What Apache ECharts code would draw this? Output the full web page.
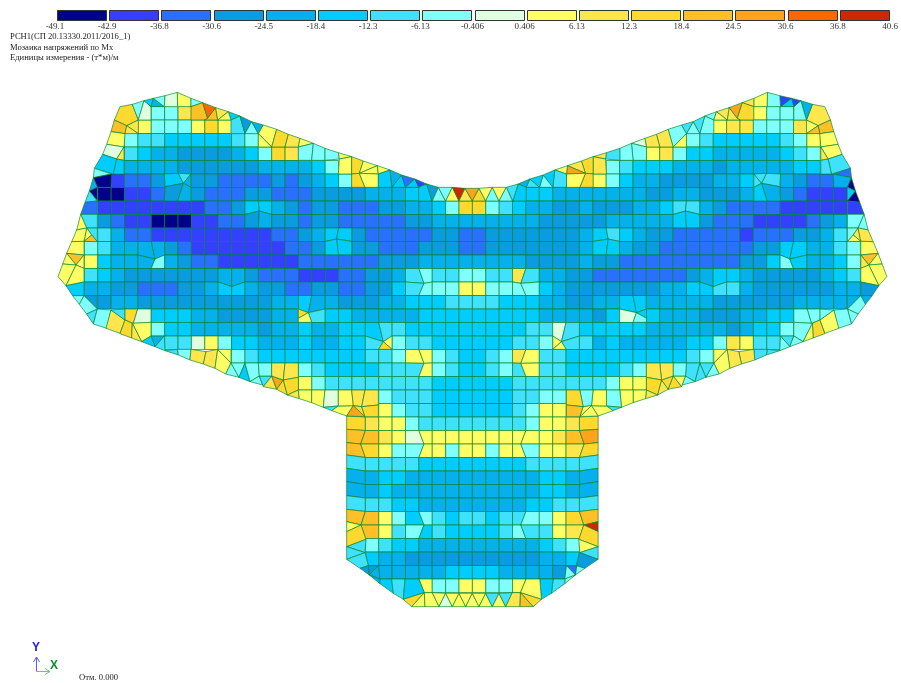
<!DOCTYPE html>
<html>
<head>
    <meta charset="UTF-8">
    <title>Мозаика напряжений по Mx</title>
    <style>
        html,body{margin:0;padding:0;background:#fff}
        #main{width:901px;height:683px}
    </style>
</head>
<body>
<div id="main"></div>
<script src="https://cdn.jsdelivr.net/npm/echarts@6/dist/echarts.min.js"></script>
<script type="text/javascript">
    // scale of the mosaic, one letter per band
    var bandCodes = 'abcdefghijklmnop';
    var bandColors = ['#00008b','#3340ff','#2a70ff','#0a9be0','#05b0ec','#00ccff','#40e0ff','#80ffff',
        '#e0ffe0','#ffff66','#ffe64d','#ffd92e','#ffbf26','#ffa31a','#ff6600','#cc2900'];
    var tickLabels = ['-49.1','-42.9','-36.8','-30.6','-24.5','-18.4','-12.3','-6.13','-0.406',
        '0.406','6.13','12.3','18.4','24.5','30.6','36.8','40.6'];

    var titleLines = ['РСН1(СП 20.13330.2011/2016_1)','Мозаика напряжений по Mx','Единицы измерения - (т*м)/м'];
    var levelLabel = 'Отм. 0.000';

    // plate mesh, regular cells: rows from firstRow, columns -30..-1 | 0..29
    var firstRow = -7;
    var cellRows = [
        '......hhk.....................|.....................jhh......',
        '.....jhhhjlj..................|..................jkkhhhk.....',
        '....hggfffffgh................|................hgfffffghj....',
        '....gfeeddddefhlk.............|.............jkhffeeeeefgh....',
        '....eeeeddddddeeeefh..........|..........hgfffeeedeeeeeff....',
        '...bccd..ddccccdcdefh.........|.........jhfeeddddeef..edcc...',
        '..aabbc..dcccddcccddddeeef....|....ffeeeeeeeddeeddde..dcbbb..',
        '..bbbbbbbbccdffedcddcccddeefhl|lhgfeeddedddeefggedccccbbbbb..',
        '..dcbbaaabbccdeddcddcccccddeee|eeeeedddddeeeeeffdcccbbbbcde..',
        '..geccbbbbbbbbbccdeffdcccccddc|cdddddddefgfeddcccccbcccddeg..',
        '.hgeeeedcbbbbbbbccdffddcccdddc|cdddddddeffeddcccccccddffeegh.',
        '.jfeeehedccbbbbbbccccccdddeeee|eeeeddddeddcccccccccddfhfeefh.',
        '.gfedddddddeedcccbbbccddeghggh|hggkgeeddcccccccdeffedddddefg.',
        '.eeddcccddeffeddccddccddfghhhj|jhhhhfedddddddeeffggeddddddee.',
        '..deeddddddddddeefeedddeefffgg|ggfffeeddeeffeeeeeddddddeeee..',
        '......fffeeddddee.gffeeeeeffff|fffffeeeedfi.feeedddeeff......',
        '......hffeeeeedeefeefffggfffff|ffffggigfffffeeeeeedeffh......',
        '.......ggijhffeeefeeffg.hggfff|fffggh.ggefeeeeeffhkjgg.......',
        '............hgffffffffgghjjhgf|fghkjggfffffffffgh............',
        '.................hgffffgggjhgf|fghgjggffffgh.................',
        '.................jhggggggggfff|fffggggggghjj.................',
        '.......................hgggfff|fffgghh.......................',
        '.......................jhggfff|fffghjj.......................',
        '.....................lkjjhgggg|gggghjjkl.....................',
        '.....................mmkjijjjj|jjjjjjkmn.....................',
        '.....................mljhhjjhj|jhjjhjjkl.....................',
        '.....................gggggffff|ffffggggg.....................',
        '.....................eeffeeeee|eeeeeffee.....................',
        '.....................eefeeeeee|eeeeeffee.....................',
        '.....................gggffeeee|eeeeffggg.....................',
        '.....................mmjhfhgfg|gfgghhjlm.....................',
        '......................mjghfgff|ffghggjk......................',
        '......................hgffeeee|eeeeefgh......................',
        '......................feeddddd|dddddeef......................',
        '.......................eeeeeff|ffeeeed.......................',
        '..........................jhhj|jhhj..........................'
    ];

    // mesh nodes pulled off the regular lattice (column, row, x, y), mirrored to the right half
    var movedNodes = [
        [-16,1,628,378],[-10,3,860,462],[-24,4,315,522],[-18,6,545,605],[-4,6,1122,595],[-12,8,775,683],
        [-7,10,1000,770],[-4,12,1122,835],[-4,18,1122,1077],[-8,18,932,1077],[-4,24,1122,1320],[-8,24,933,1320],
        [-9,16,890,993],[-9,17,890,1033],[-9,18,890,1073],[-9,19,890,1110],[-9,20,890,1150],[-9,21,890,1190],
        [-9,22,890,1232],[-9,23,890,1273],[-9,24,890,1310],[-8,27,955,1442],[-4,29,1123,1523]
    ];

    // irregular elements of the left half in model units, the right half is their mirror image
    var edgeNodes = [
        [210,65,247,58,265,105,230,122,193,105],[247,58,282,47,265,105],[282,47,303,65,303,105,265,105],
        [282,47,310,40,303,65],[310,40,343,65,303,65],[310,40,345,32,343,65],[345,32,382,22,383,65,343,65],
        [382,22,423,40,423,65,383,65],[423,40,458,53,423,65],[423,65,458,53,473,100,463,105,423,105],
        [458,53,497,68,473,100],[473,100,497,68,503,105,463,105],[497,68,535,80,503,105],[535,80,570,93,543,105],
        [503,105,535,80,543,105],[543,105,570,93,585,146,543,146],[570,93,605,110,585,146],[605,110,625,146,585,146],
        [605,110,640,120,625,146],[640,120,680,133,665,186,625,146],[625,146,665,186,625,186],
        [680,133,715,148,705,186,665,186],[715,148,750,160,745,186,705,186],[750,160,790,175,745,186],
        [745,186,790,175,785,226,745,226],[790,175,825,190,825,226,785,226],[825,190,865,203,868,222,825,226],
        [865,203,905,215,868,222],[868,222,905,215,905,267,865,267],[905,215,940,228,928,265,905,267],
        [940,228,982,242,928,265],[982,242,985,267,928,265],[905,267,928,265,945,307,905,307],
        [928,265,985,267,985,307,945,307],[982,242,1020,255,985,267],[1020,255,1026,307,985,307,985,267],
        [1020,255,1055,270,1026,307],[1055,270,1066,307,1026,307],[1055,270,1095,282,1066,307],
        [1095,282,1106,307,1066,307],[1095,282,1130,297,1106,307],[1130,297,1146,348,1106,348,1106,307],
        [1130,297,1165,307,1146,348],
        [193,105,230,122,225,146,183,140],[265,105,230,122,265,146],[230,122,225,146,265,146],
        [183,140,225,146,222,186,170,178],[170,178,222,186,200,222,158,208],[222,186,222,226,200,222],
        [158,208,200,222,190,267,133,250],[200,222,222,226,222,267,190,267],[133,250,185,267,130,278],
        [130,278,185,267,183,307,142,307],[130,278,142,307,118,318],[118,318,142,307,142,348],
        [118,318,142,348,105,352],[105,352,142,348,142,388,92,388],[92,388,142,388,142,429,110,429],
        [110,429,142,429,142,470,125,450],[92,388,110,429,80,435],[110,429,125,450,102,469],
        [102,469,125,450,142,470],[80,435,110,429,102,469,65,470],[65,470,102,469,102,510,50,505],
        [50,505,102,510,78,540],[50,505,78,540,38,537],[102,510,102,550,78,540],[38,537,78,540,48,602,24,575],
        [78,540,102,550,102,591,48,602],[48,602,102,591,102,632,68,632],[68,632,102,632,88,658],
        [102,632,142,632,142,672],[102,632,142,672,110,687,88,658],[110,687,142,672,130,717],
        [142,672,183,675,170,730,130,717],[183,675,225,705,210,745,168,730],[183,675,225,672,225,705],
        [225,672,263,672,250,715,225,705],[263,672,303,672,303,712,250,715],[225,705,247,715,245,759,210,746],
        [247,715,303,712,303,753,275,770],[247,715,275,770,245,759],[303,753,343,753,315,785],
        [303,753,315,785,275,770],[343,753,345,797,315,785],[345,797,383,793,385,810],
        [383,793,423,793,420,825,385,810],[423,793,468,800,460,837,420,825],[468,800,503,793,495,850,460,837],
        [503,793,543,834,527,867,495,850],[503,793,543,793,543,834],[527,867,543,834,567,877],
        [543,834,585,834,567,877],[567,877,585,834,600,890],[585,834,625,834,628,873,600,890],
        [600,890,628,873,638,900],[628,873,665,873,640,905],[640,905,665,873,680,913],[665,873,700,885,680,913],
        [625,834,665,834,665,873,628,873],[665,834,705,834,700,885,665,873],[705,834,745,834,745,877,700,885],
        [680,913,700,885,712,930],[700,885,745,877,745,915,712,930],[712,930,745,915,748,941],
        [745,915,785,915,785,953,748,941],[785,915,825,915,820,967,785,953],[825,915,865,915,865,963,820,967],
        [820,967,865,963,845,977],[865,963,910,962,890,993,845,977],[865,915,905,915,910,962,865,963],
        [905,915,945,915,935,965,910,962],[945,915,985,915,985,960,935,965],[890,993,910,962,945,995],
        [910,962,935,965,945,995],[935,965,985,960,985,995,945,995],
        [890,1310,933,1320,890,1340],[890,1340,933,1320,948,1363,890,1385],[890,1385,948,1363,945,1403],
        [890,1385,945,1403,890,1423],[890,1423,945,1403,955,1442,930,1450],[930,1450,955,1442,958,1470],
        [955,1442,985,1442,958,1470],[958,1470,985,1442,990,1482],[958,1470,990,1482,990,1496],
        [990,1482,1025,1482,1030,1525,990,1496],[1025,1482,1065,1482,1060,1543,1030,1525],
        [1065,1482,1106,1482,1123,1523,1060,1543],[1060,1543,1123,1523,1085,1565],[1123,1523,1125,1565,1085,1565],
        [745,672,775,683,745,700],[745,700,775,683,785,712,745,712],[1000,770,1026,753,1026,793],
        [1000,770,1026,793,986,793],
        [343,267,385,265,400,295,345,305],[385,265,423,267,400,295],[423,267,423,307,400,295],
        [345,305,400,295,383,348,343,348],[400,295,423,307,423,348,383,348]
    ];
    var edgeLeft = [
        'l','h','i','f','e','h','i','j','h','m','o','m','k','f','j','g','d','h','e','j','j','l','k','j','h','h','h','j','j','l','j','j','l','j','j','f','e','f','c','f','b','f','d',
        'm','k','k','j','i','k','f','f','h','a','e','a','g','c','g','g','j','j','m','j','j',
        'm','j','j','j','j','f','h','d','h','g','h','k','g','l','i','l','j','k','e','f','g','g','h','k','k','j','j','h','h','f','h','h','g','k','n','h','k','k','l','l','k','j','j','i','g','j','j','k','k','n','l','l',
        'j','l','g','g','g','d','d','e','e','f','g','f','l','j',
        'l','j','j','l',
        'f','g','e','d','e'
    ];
    var edgeRight = [
        'k','e','h','b','f','b','h','j','k','l','n','k','k','h','j','h','g','h','g','h','j','k','k','i','h','h','g','k','k','l','k','n','l','j','j','g','f','h','f','g','e','f','g',
        'm','j','m','j','j','k','g','g','c','e','a','f','a','b','h','h','h','k','j','k','j',
        'm','j','k','j','j','d','e','e','h','h','h','j','h','h','h','l','h','j','g','h','h','g','g','k','k','j','j','h','g','g','g','h','j','l','l','h','k','k','k','l','k','j','j','h','g','j','j','h','l','j','j','m',
        'p','l','j','g','d','h','c','h','h','g','f','j','l','m',
        'f','h','j','j',
        'g','g','g','e','f'
    ];

    // elements on the axis of symmetry, top notch row and bottom edge row
    var centerNodes = [
        [1147,348,1165,307,1187,348],[1165,307,1207,307,1187,348],[1187,348,1207,307,1227,348],[1207,307,1245,310,1227,348],
        [1227,348,1245,310,1267,348],[1245,310,1287,310,1267,348],[1267,348,1287,310,1307,348],[1287,310,1327,307,1307,348],
        [1307,348,1327,307,1347,348],[1327,307,1369,307,1347,348],[1347,348,1369,307,1387,348],
        [1125,1565,1123,1523,1147,1523,1167,1565],[1147,1523,1187,1525,1167,1565],[1167,1565,1187,1525,1207,1565],
        [1187,1525,1227,1525,1207,1565],[1207,1565,1227,1525,1247,1565],[1227,1525,1267,1525,1247,1565],
        [1247,1565,1267,1525,1287,1565],[1267,1525,1307,1525,1287,1565],[1287,1565,1307,1525,1327,1565],
        [1307,1525,1347,1525,1327,1565],[1327,1565,1347,1525,1367,1565],[1347,1525,1387,1523,1367,1565],
        [1367,1565,1387,1523,1411,1523,1409,1565]
    ];
    var centerValues = ['h','h','j','p','k','n','l','j','h','j','h','j','j','i','j','j','j','j','j','j','g','j','g','k'];

    var meshCenterX = 1267.2, meshBaseY = 348, meshStepX = 40.14, meshStepY = 40.5;
    var moved = {};
    for (var m=0;m<movedNodes.length;m++) {
        var mn = movedNodes[m];
        moved[mn[0]+','+mn[1]] = [mn[2],mn[3]];
        moved[(-mn[0])+','+mn[1]] = [2*meshCenterX-mn[2],mn[3]];
    }

    function meshNode(i,j) {
        return moved[i+','+j] || [meshCenterX+meshStepX*i, meshBaseY+meshStepY*j];
    }

    function pairs(list,mirror) {
        var out = [];
        for (var p=0;p<list.length;p+=2) {
            out.push([mirror ? 2*meshCenterX-list[p] : list[p], list[p+1]]);
        }
        return out;
    }

    // everything goes into one list of elements for the custom series
    var elements = [];
    for (var r=0;r<cellRows.length;r++) {
        var halves = cellRows[r].split('|');
        var j = firstRow+r;
        for (var a=0;a<halves[0].length+halves[1].length;a++) {
            var code = a<halves[0].length ? halves[0].charAt(a) : halves[1].charAt(a-halves[0].length);
            if (code=='.') continue;
            var i = a-30;
            elements.push({band:bandCodes.indexOf(code),nodes:[meshNode(i,j),meshNode(i+1,j),meshNode(i+1,j+1),meshNode(i,j+1)]});
        }
    }
    for (var e=0;e<edgeNodes.length;e++) {
        elements.push({band:bandCodes.indexOf(edgeLeft[e]),nodes:pairs(edgeNodes[e],false)});
        elements.push({band:bandCodes.indexOf(edgeRight[e]),nodes:pairs(edgeNodes[e],true)});
    }
    for (var c=0;c<centerNodes.length;c++) {
        elements.push({band:bandCodes.indexOf(centerValues[c]),nodes:pairs(centerNodes[c],false)});
    }

    var serif = '"Liberation Serif"';

    var option = {
        animation:false,
        backgroundColor:'#fff',
        grid:[
            {left:0,top:0,width:901,height:683},
            {left:55,top:10,width:835,height:11}
        ],
        xAxis:[
            {gridIndex:0,type:'value',min:-150,max:2553,show:false},
            {
                gridIndex:1,type:'value',min:0,max:16,interval:1,
                axisLine:{show:false},axisTick:{show:false},splitLine:{show:false},
                axisLabel:{
                    margin:1,fontFamily:serif,fontSize:9,color:'#333',
                    showMinLabel:true,showMaxLabel:true,hideOverlap:false,
                    formatter:function(v){return tickLabels[v];}
                }
            }
        ],
        yAxis:[
            {gridIndex:0,type:'value',min:-255,max:1794,inverse:true,show:false},
            {gridIndex:1,type:'value',min:0,max:1,show:false}
        ],
        series:[
            {
                type:'custom',
                xAxisIndex:0,yAxisIndex:0,
                silent:true,clip:false,
                data:elements.map(function(d,idx){return [idx];}),
                encode:{x:[],y:[]},
                renderItem:function(params,api){
                    var el = elements[params.dataIndex];
                    return {
                        type:'polygon',
                        shape:{points:el.nodes.map(function(n){return api.coord(n);})},
                        style:{fill:bandColors[el.band],stroke:'rgba(0,130,40,0.72)',lineWidth:0.9}
                    };
                }
            },
            {
                type:'custom',
                xAxisIndex:1,yAxisIndex:1,
                silent:true,clip:false,
                data:bandColors.map(function(d,idx){return [idx];}),
                encode:{x:[],y:[]},
                renderItem:function(params,api){
                    var p0 = api.coord([params.dataIndex,1]);
                    var p1 = api.coord([params.dataIndex+1,0]);
                    return {
                        type:'rect',
                        shape:{x:Math.round(p0[0])+2.5,y:p0[1]+0.5,width:Math.round(p1[0]-p0[0])-3,height:p1[1]-p0[1]-1},
                        style:{fill:bandColors[params.dataIndex],stroke:'#333',lineWidth:1}
                    };
                }
            }
        ],
        graphic:[
            {type:'text',left:10,top:32,style:{text:titleLines[0],font:'8.6px '+serif,fill:'#222'}},
            {type:'text',left:10,top:43,style:{text:titleLines[1],font:'8.6px '+serif,fill:'#222'}},
            {type:'text',left:10,top:53,style:{text:titleLines[2],font:'8.6px '+serif,fill:'#222'}},
            {type:'text',left:79,top:673,style:{text:levelLabel,font:'8.6px '+serif,fill:'#222'}},
            {type:'text',left:32,top:642,style:{text:'Y',font:'bold 12px "Liberation Sans"',fill:'#1a1aee'}},
            {type:'text',left:50,top:660,style:{text:'X',font:'bold 12px "Liberation Sans"',fill:'#0a8a2a'}},
            {type:'polyline',shape:{points:[[36.5,671.5],[36.5,657],[33.5,662]]},style:{stroke:'#5a5aff',lineWidth:1,fill:null}},
            {type:'line',shape:{x1:36.5,y1:657,x2:39.5,y2:662},style:{stroke:'#5a5aff',lineWidth:1}},
            {type:'polyline',shape:{points:[[36.5,671.5],[50,671.5],[45,668.5]]},style:{stroke:'#6fc08a',lineWidth:1,fill:null}},
            {type:'line',shape:{x1:50,y1:671.5,x2:45,y2:674.5},style:{stroke:'#6fc08a',lineWidth:1}}
        ]
    };

    var myChart = echarts.init(document.getElementById('main'));
    myChart.setOption(option);
</script>
</body>
</html>
